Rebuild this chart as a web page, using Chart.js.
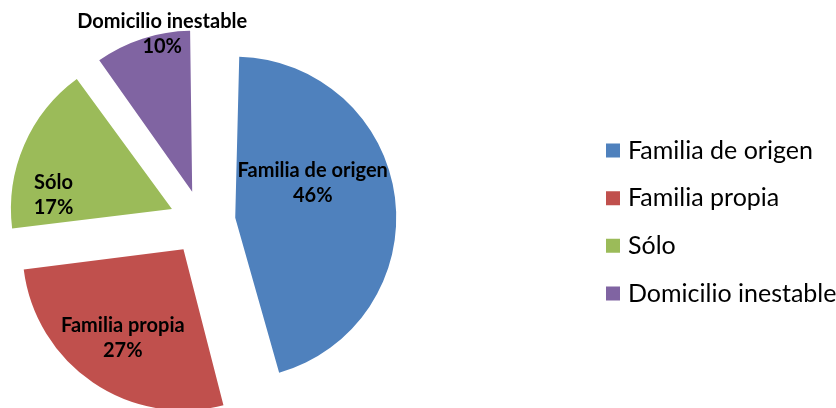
<!DOCTYPE html>
<html>
<head>
<meta charset="utf-8">
<script src="https://cdn.jsdelivr.net/npm/chart.js@4.4.0/dist/chart.umd.min.js"></script>
<style>
  html, body { margin: 0; padding: 0; background: #fff; overflow: hidden; }
  #wrap { position: relative; width: 836px; height: 408px; overflow: hidden; }
  #pieChart { position: absolute; left: -184px; top: 0; }
</style>
</head>
<body>
<div id="wrap"><canvas id="pieChart" width="1100" height="408"></canvas></div>
<script>
const categories = ['Familia de origen', 'Familia propia', 'Sólo', 'Domicilio inestable'];
const percentages = [46, 27, 17, 10];

const sliceColors = ['#4F81BD', '#C0504D', '#9BBB59', '#8064A2'];
// pull-out of each slice (chart.js moves a slice by offset / 4)
const explode = [134, 132, 131, 127];
// where each label sits, from the slice tip: [degrees clockwise from top, share of radius]
const labelSpots = [[69.8, 0.513], [212.4, 0.703], [273.6, 0.737], [348.8, 0.959]];

// legend sizes
const legendFont = { family: 'Lato', size: 25 };
const legendPad = 22.7;
const legendBox = 5;

// canvas is shifted 184px left, legend should start at 587.8 on the page
const legendLeft = 587.8 + 184;
const meas = document.createElement('canvas').getContext('2d');
meas.font = 'normal 25px Lato';
const widest = Math.max(...categories.map(c => meas.measureText(c).width));
const legendWidth = legendPad + legendBox + legendFont.size / 2 + widest + 10;
const padRight = 1100 - legendLeft - legendWidth;
const padLeft = 2 * (202 + 184) - legendLeft;

// chart.js grows big exploded slices a bit, take that back so all share one radius
const explodeFix = {
    id: 'explodeFix',
    beforeDatasetsDraw(chart) {
        const meta = chart.getDatasetMeta(0);
        const R = meta.controller.outerRadius;
        meta.data.forEach(arc => {
            const t = (arc.options.offset || 0) / 4;
            const fix = 1 - Math.sin(Math.min(Math.PI, arc.circumference));
            arc.outerRadius = R - t * fix;
        });
    }
};

const sliceLabels = {
    id: 'sliceLabels',
    afterDatasetsDraw(chart) {
        const ctx = chart.ctx;
        const meta = chart.getDatasetMeta(0);
        const R = meta.controller.outerRadius;
        ctx.save();
        ctx.font = 'bold 20px Lato';
        ctx.fillStyle = '#000';
        ctx.textAlign = 'center';
        meta.data.forEach((arc, i) => {
            const mid = (arc.startAngle + arc.endAngle) / 2;
            const t = (arc.options.offset || 0) / 4;
            const tipX = arc.x + Math.cos(mid) * t;
            const tipY = arc.y + Math.sin(mid) * t;
            const a = labelSpots[i][0] * Math.PI / 180;
            const d = labelSpots[i][1] * R;
            const x = tipX + Math.sin(a) * d;
            const y = tipY - Math.cos(a) * d;
            ctx.fillText(categories[i], x, y - 12.5);
            ctx.fillText(percentages[i] + '%', x, y + 12.5);
        });
        ctx.restore();
    }
};

new Chart(document.getElementById('pieChart'), {
    type: 'pie',
    data: {
        labels: categories,
        datasets: [{
            data: percentages,
            backgroundColor: sliceColors,
            borderWidth: 0,
            offset: explode,
            hoverOffset: 0,
            radius: 161
        }]
    },
    options: {
        responsive: false,
        animation: false,
        events: [],
        layout: { padding: { left: padLeft, right: padRight, top: 36, bottom: 0 } },
        plugins: {
            legend: {
                position: 'right',
                labels: {
                    color: '#000',
                    font: legendFont,
                    usePointStyle: true,
                    pointStyle: 'rect',
                    boxWidth: legendBox,
                    boxHeight: 14,
                    padding: legendPad
                }
            },
            tooltip: { enabled: false }
        }
    },
    plugins: [explodeFix, sliceLabels]
});
</script>
</body>
</html>
